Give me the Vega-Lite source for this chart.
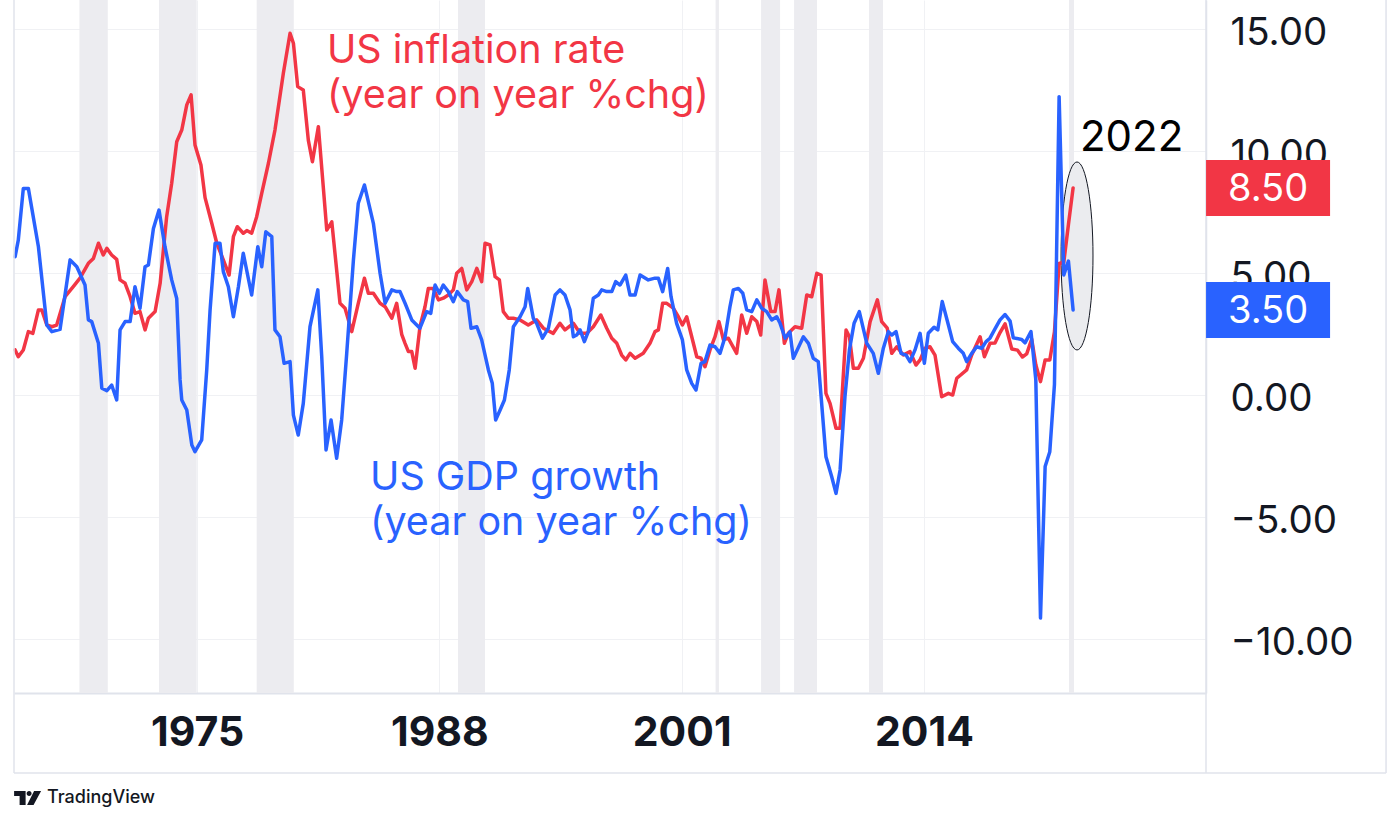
{
  "$schema": "https://vega.github.io/schema/vega-lite/v6.json",
  "autosize": {"type": "none"},
  "width": 1192,
  "height": 693,
  "padding": {"left": 14, "top": 0, "right": 194, "bottom": 130},
  "background": "#ffffff",
  "config": {
    "font": "Inter",
    "view": {"stroke": null}
  },
  "datasets": {
    "bands": [
      {"start": 1968.69, "end": 1970.21},
      {"start": 1972.96, "end": 1974.98},
      {"start": 1978.20, "end": 1980.19},
      {"start": 1989.00, "end": 1990.45},
      {"start": 2002.82, "end": 2003.00},
      {"start": 2005.26, "end": 2006.28},
      {"start": 2007.03, "end": 2008.26},
      {"start": 2011.05, "end": 2011.80},
      {"start": 2021.78, "end": 2022.05}
    ],
    "last": [
      {"series": "Inflation", "value": 8.5},
      {"series": "GDP", "value": 3.5}
    ],
    "series": [
      {"series":"Inflation","year":1965.24,"value":1.86},
      {"series":"Inflation","year":1965.41,"value":1.58},
      {"series":"Inflation","year":1965.68,"value":1.86},
      {"series":"Inflation","year":1965.95,"value":2.61},
      {"series":"Inflation","year":1966.19,"value":2.54},
      {"series":"Inflation","year":1966.49,"value":3.50},
      {"series":"Inflation","year":1966.67,"value":3.50},
      {"series":"Inflation","year":1966.94,"value":2.88},
      {"series":"Inflation","year":1967.21,"value":2.81},
      {"series":"Inflation","year":1967.47,"value":2.88},
      {"series":"Inflation","year":1967.92,"value":4.04},
      {"series":"Inflation","year":1968.36,"value":4.45},
      {"series":"Inflation","year":1968.72,"value":4.80},
      {"series":"Inflation","year":1969.17,"value":5.41},
      {"series":"Inflation","year":1969.44,"value":5.61},
      {"series":"Inflation","year":1969.71,"value":6.23},
      {"series":"Inflation","year":1969.97,"value":5.75},
      {"series":"Inflation","year":1970.16,"value":6.02},
      {"series":"Inflation","year":1970.42,"value":5.75},
      {"series":"Inflation","year":1970.69,"value":5.57},
      {"series":"Inflation","year":1970.87,"value":4.73},
      {"series":"Inflation","year":1971.14,"value":4.59},
      {"series":"Inflation","year":1971.41,"value":4.04},
      {"series":"Inflation","year":1971.67,"value":3.36},
      {"series":"Inflation","year":1971.94,"value":3.43},
      {"series":"Inflation","year":1972.21,"value":2.68},
      {"series":"Inflation","year":1972.39,"value":3.16},
      {"series":"Inflation","year":1972.75,"value":3.43},
      {"series":"Inflation","year":1973.02,"value":4.59},
      {"series":"Inflation","year":1973.37,"value":7.32},
      {"series":"Inflation","year":1973.64,"value":8.69},
      {"series":"Inflation","year":1973.91,"value":10.39},
      {"series":"Inflation","year":1974.18,"value":10.87},
      {"series":"Inflation","year":1974.45,"value":11.90},
      {"series":"Inflation","year":1974.68,"value":12.31},
      {"series":"Inflation","year":1974.89,"value":10.26},
      {"series":"Inflation","year":1975.21,"value":9.44},
      {"series":"Inflation","year":1975.43,"value":8.10},
      {"series":"Inflation","year":1975.79,"value":7.05},
      {"series":"Inflation","year":1976.06,"value":6.23},
      {"series":"Inflation","year":1976.41,"value":5.55},
      {"series":"Inflation","year":1976.72,"value":4.93},
      {"series":"Inflation","year":1976.95,"value":6.50},
      {"series":"Inflation","year":1977.16,"value":6.91},
      {"series":"Inflation","year":1977.48,"value":6.64},
      {"series":"Inflation","year":1977.67,"value":6.75},
      {"series":"Inflation","year":1977.93,"value":6.64},
      {"series":"Inflation","year":1978.20,"value":7.32},
      {"series":"Inflation","year":1978.47,"value":8.28},
      {"series":"Inflation","year":1978.83,"value":9.51},
      {"series":"Inflation","year":1979.18,"value":10.87},
      {"series":"Inflation","year":1979.63,"value":13.20},
      {"series":"Inflation","year":1979.99,"value":14.84},
      {"series":"Inflation","year":1980.17,"value":14.43},
      {"series":"Inflation","year":1980.40,"value":12.65},
      {"series":"Inflation","year":1980.70,"value":12.51},
      {"series":"Inflation","year":1980.97,"value":10.46},
      {"series":"Inflation","year":1981.19,"value":9.57},
      {"series":"Inflation","year":1981.51,"value":11.01},
      {"series":"Inflation","year":1981.96,"value":6.77},
      {"series":"Inflation","year":1982.23,"value":7.11},
      {"series":"Inflation","year":1982.67,"value":3.77},
      {"series":"Inflation","year":1982.94,"value":3.57},
      {"series":"Inflation","year":1983.30,"value":2.61},
      {"series":"Inflation","year":1983.65,"value":3.77},
      {"series":"Inflation","year":1983.98,"value":4.80},
      {"series":"Inflation","year":1984.19,"value":4.18},
      {"series":"Inflation","year":1984.46,"value":4.18},
      {"series":"Inflation","year":1984.82,"value":3.77},
      {"series":"Inflation","year":1985.09,"value":3.63},
      {"series":"Inflation","year":1985.45,"value":3.16},
      {"series":"Inflation","year":1985.71,"value":3.77},
      {"series":"Inflation","year":1985.98,"value":2.50},
      {"series":"Inflation","year":1986.16,"value":2.13},
      {"series":"Inflation","year":1986.34,"value":1.79},
      {"series":"Inflation","year":1986.52,"value":1.79},
      {"series":"Inflation","year":1986.70,"value":1.11},
      {"series":"Inflation","year":1986.96,"value":2.81},
      {"series":"Inflation","year":1987.23,"value":3.63},
      {"series":"Inflation","year":1987.41,"value":4.38},
      {"series":"Inflation","year":1987.68,"value":4.38},
      {"series":"Inflation","year":1987.95,"value":3.91},
      {"series":"Inflation","year":1988.21,"value":3.98},
      {"series":"Inflation","year":1988.48,"value":4.11},
      {"series":"Inflation","year":1988.75,"value":4.32},
      {"series":"Inflation","year":1988.93,"value":5.00},
      {"series":"Inflation","year":1989.20,"value":5.20},
      {"series":"Inflation","year":1989.47,"value":4.32},
      {"series":"Inflation","year":1989.74,"value":4.66},
      {"series":"Inflation","year":1990.01,"value":5.20},
      {"series":"Inflation","year":1990.27,"value":4.66},
      {"series":"Inflation","year":1990.45,"value":6.23},
      {"series":"Inflation","year":1990.72,"value":6.16},
      {"series":"Inflation","year":1990.99,"value":4.86},
      {"series":"Inflation","year":1991.22,"value":4.73},
      {"series":"Inflation","year":1991.43,"value":3.43},
      {"series":"Inflation","year":1991.70,"value":3.16},
      {"series":"Inflation","year":1991.97,"value":3.16},
      {"series":"Inflation","year":1992.33,"value":3.09},
      {"series":"Inflation","year":1992.77,"value":2.88},
      {"series":"Inflation","year":1993.22,"value":3.09},
      {"series":"Inflation","year":1993.58,"value":2.75},
      {"series":"Inflation","year":1994.11,"value":2.54},
      {"series":"Inflation","year":1994.47,"value":2.95},
      {"series":"Inflation","year":1994.74,"value":2.68},
      {"series":"Inflation","year":1995.19,"value":2.95},
      {"series":"Inflation","year":1995.55,"value":2.54},
      {"series":"Inflation","year":1995.91,"value":2.54},
      {"series":"Inflation","year":1996.26,"value":2.81},
      {"series":"Inflation","year":1996.66,"value":3.29},
      {"series":"Inflation","year":1996.98,"value":2.75},
      {"series":"Inflation","year":1997.25,"value":2.34},
      {"series":"Inflation","year":1997.52,"value":2.13},
      {"series":"Inflation","year":1997.78,"value":1.65},
      {"series":"Inflation","year":1998.00,"value":1.45},
      {"series":"Inflation","year":1998.23,"value":1.72},
      {"series":"Inflation","year":1998.50,"value":1.52},
      {"series":"Inflation","year":1998.94,"value":1.72},
      {"series":"Inflation","year":1999.30,"value":2.13},
      {"series":"Inflation","year":1999.57,"value":2.61},
      {"series":"Inflation","year":1999.75,"value":2.68},
      {"series":"Inflation","year":1999.98,"value":3.77},
      {"series":"Inflation","year":2000.20,"value":3.77},
      {"series":"Inflation","year":2000.55,"value":3.57},
      {"series":"Inflation","year":2000.82,"value":3.22},
      {"series":"Inflation","year":2001.04,"value":2.88},
      {"series":"Inflation","year":2001.27,"value":3.22},
      {"series":"Inflation","year":2001.54,"value":2.40},
      {"series":"Inflation","year":2001.81,"value":1.58},
      {"series":"Inflation","year":2002.04,"value":1.52},
      {"series":"Inflation","year":2002.25,"value":1.17},
      {"series":"Inflation","year":2002.52,"value":1.86},
      {"series":"Inflation","year":2002.79,"value":2.40},
      {"series":"Inflation","year":2003.00,"value":3.02},
      {"series":"Inflation","year":2003.24,"value":2.27},
      {"series":"Inflation","year":2003.50,"value":2.34},
      {"series":"Inflation","year":2003.95,"value":1.72},
      {"series":"Inflation","year":2004.22,"value":3.29},
      {"series":"Inflation","year":2004.49,"value":2.54},
      {"series":"Inflation","year":2004.76,"value":3.22},
      {"series":"Inflation","year":2005.03,"value":3.02},
      {"series":"Inflation","year":2005.24,"value":2.47},
      {"series":"Inflation","year":2005.47,"value":4.73},
      {"series":"Inflation","year":2005.78,"value":3.43},
      {"series":"Inflation","year":2006.01,"value":3.43},
      {"series":"Inflation","year":2006.22,"value":4.32},
      {"series":"Inflation","year":2006.51,"value":2.13},
      {"series":"Inflation","year":2006.72,"value":2.54},
      {"series":"Inflation","year":2007.08,"value":2.81},
      {"series":"Inflation","year":2007.44,"value":2.75},
      {"series":"Inflation","year":2007.71,"value":4.11},
      {"series":"Inflation","year":2007.98,"value":4.04},
      {"series":"Inflation","year":2008.25,"value":5.00},
      {"series":"Inflation","year":2008.48,"value":4.93},
      {"series":"Inflation","year":2008.74,"value":0.08},
      {"series":"Inflation","year":2008.96,"value":-0.33},
      {"series":"Inflation","year":2009.28,"value":-1.35},
      {"series":"Inflation","year":2009.50,"value":-1.35},
      {"series":"Inflation","year":2009.82,"value":2.68},
      {"series":"Inflation","year":2010.00,"value":2.40},
      {"series":"Inflation","year":2010.21,"value":1.11},
      {"series":"Inflation","year":2010.48,"value":1.11},
      {"series":"Inflation","year":2010.75,"value":1.52},
      {"series":"Inflation","year":2011.11,"value":3.02},
      {"series":"Inflation","year":2011.50,"value":3.91},
      {"series":"Inflation","year":2011.73,"value":3.02},
      {"series":"Inflation","year":2012.03,"value":2.75},
      {"series":"Inflation","year":2012.27,"value":1.72},
      {"series":"Inflation","year":2012.54,"value":1.99},
      {"series":"Inflation","year":2012.89,"value":1.65},
      {"series":"Inflation","year":2013.25,"value":1.79},
      {"series":"Inflation","year":2013.57,"value":1.24},
      {"series":"Inflation","year":2013.79,"value":1.45},
      {"series":"Inflation","year":2014.06,"value":1.93},
      {"series":"Inflation","year":2014.32,"value":1.99},
      {"series":"Inflation","year":2014.59,"value":1.65},
      {"series":"Inflation","year":2014.95,"value":-0.06},
      {"series":"Inflation","year":2015.31,"value":0.08},
      {"series":"Inflation","year":2015.54,"value":0.01},
      {"series":"Inflation","year":2015.76,"value":0.70},
      {"series":"Inflation","year":2016.29,"value":1.04},
      {"series":"Inflation","year":2016.56,"value":1.65},
      {"series":"Inflation","year":2017.01,"value":2.40},
      {"series":"Inflation","year":2017.24,"value":1.58},
      {"series":"Inflation","year":2017.54,"value":2.13},
      {"series":"Inflation","year":2017.81,"value":2.14},
      {"series":"Inflation","year":2018.08,"value":2.57},
      {"series":"Inflation","year":2018.35,"value":2.93},
      {"series":"Inflation","year":2018.71,"value":1.90},
      {"series":"Inflation","year":2019.02,"value":1.85},
      {"series":"Inflation","year":2019.28,"value":1.57},
      {"series":"Inflation","year":2019.51,"value":1.70},
      {"series":"Inflation","year":2019.78,"value":2.30},
      {"series":"Inflation","year":2020.00,"value":1.25},
      {"series":"Inflation","year":2020.25,"value":0.56},
      {"series":"Inflation","year":2020.50,"value":1.45},
      {"series":"Inflation","year":2020.75,"value":1.45},
      {"series":"Inflation","year":2021.00,"value":2.60},
      {"series":"Inflation","year":2021.25,"value":5.40},
      {"series":"Inflation","year":2021.50,"value":5.45},
      {"series":"Inflation","year":2021.75,"value":7.00},
      {"series":"Inflation","year":2022.00,"value":8.50},
      {"series":"GDP","year":1965.24,"value":5.68},
      {"series":"GDP","year":1965.41,"value":6.36},
      {"series":"GDP","year":1965.68,"value":8.48},
      {"series":"GDP","year":1965.95,"value":8.48},
      {"series":"GDP","year":1966.49,"value":6.09},
      {"series":"GDP","year":1966.94,"value":2.88},
      {"series":"GDP","year":1967.21,"value":2.61},
      {"series":"GDP","year":1967.65,"value":2.70},
      {"series":"GDP","year":1968.19,"value":5.55},
      {"series":"GDP","year":1968.55,"value":5.27},
      {"series":"GDP","year":1968.99,"value":4.52},
      {"series":"GDP","year":1969.17,"value":3.09},
      {"series":"GDP","year":1969.35,"value":3.02},
      {"series":"GDP","year":1969.71,"value":2.13},
      {"series":"GDP","year":1969.89,"value":0.29},
      {"series":"GDP","year":1970.16,"value":0.19},
      {"series":"GDP","year":1970.42,"value":0.42},
      {"series":"GDP","year":1970.69,"value":-0.19},
      {"series":"GDP","year":1970.87,"value":2.68},
      {"series":"GDP","year":1971.14,"value":3.02},
      {"series":"GDP","year":1971.41,"value":3.02},
      {"series":"GDP","year":1971.67,"value":4.45},
      {"series":"GDP","year":1971.94,"value":3.57},
      {"series":"GDP","year":1972.21,"value":5.27},
      {"series":"GDP","year":1972.39,"value":5.34},
      {"series":"GDP","year":1972.66,"value":6.84},
      {"series":"GDP","year":1972.96,"value":7.59},
      {"series":"GDP","year":1973.28,"value":6.09},
      {"series":"GDP","year":1973.64,"value":4.73},
      {"series":"GDP","year":1973.91,"value":3.97},
      {"series":"GDP","year":1974.09,"value":0.63},
      {"series":"GDP","year":1974.18,"value":-0.19},
      {"series":"GDP","year":1974.45,"value":-0.60},
      {"series":"GDP","year":1974.72,"value":-2.04},
      {"series":"GDP","year":1974.89,"value":-2.31},
      {"series":"GDP","year":1975.25,"value":-1.83},
      {"series":"GDP","year":1975.52,"value":1.04},
      {"series":"GDP","year":1975.70,"value":3.50},
      {"series":"GDP","year":1975.97,"value":6.23},
      {"series":"GDP","year":1976.23,"value":6.23},
      {"series":"GDP","year":1976.41,"value":5.07},
      {"series":"GDP","year":1976.68,"value":4.45},
      {"series":"GDP","year":1976.95,"value":3.22},
      {"series":"GDP","year":1977.22,"value":4.45},
      {"series":"GDP","year":1977.48,"value":5.82},
      {"series":"GDP","year":1977.93,"value":4.11},
      {"series":"GDP","year":1978.26,"value":6.09},
      {"series":"GDP","year":1978.47,"value":5.27},
      {"series":"GDP","year":1978.69,"value":6.70},
      {"series":"GDP","year":1979.01,"value":6.50},
      {"series":"GDP","year":1979.18,"value":2.68},
      {"series":"GDP","year":1979.45,"value":2.40},
      {"series":"GDP","year":1979.67,"value":1.31},
      {"series":"GDP","year":1979.99,"value":1.38},
      {"series":"GDP","year":1980.17,"value":-0.81},
      {"series":"GDP","year":1980.43,"value":-1.63},
      {"series":"GDP","year":1980.70,"value":-0.33},
      {"series":"GDP","year":1981.06,"value":2.81},
      {"series":"GDP","year":1981.48,"value":4.32},
      {"series":"GDP","year":1981.69,"value":1.58},
      {"series":"GDP","year":1981.92,"value":-2.24},
      {"series":"GDP","year":1982.19,"value":-1.01},
      {"series":"GDP","year":1982.49,"value":-2.58},
      {"series":"GDP","year":1982.76,"value":-1.01},
      {"series":"GDP","year":1983.03,"value":1.72},
      {"series":"GDP","year":1983.39,"value":5.55},
      {"series":"GDP","year":1983.65,"value":7.87},
      {"series":"GDP","year":1983.98,"value":8.62},
      {"series":"GDP","year":1984.46,"value":7.05},
      {"series":"GDP","year":1984.82,"value":5.00},
      {"series":"GDP","year":1985.09,"value":3.77},
      {"series":"GDP","year":1985.45,"value":4.32},
      {"series":"GDP","year":1985.71,"value":4.25},
      {"series":"GDP","year":1985.89,"value":4.25},
      {"series":"GDP","year":1986.16,"value":3.77},
      {"series":"GDP","year":1986.52,"value":3.09},
      {"series":"GDP","year":1986.96,"value":2.75},
      {"series":"GDP","year":1987.32,"value":3.43},
      {"series":"GDP","year":1987.54,"value":3.36},
      {"series":"GDP","year":1987.77,"value":4.52},
      {"series":"GDP","year":1988.00,"value":4.18},
      {"series":"GDP","year":1988.21,"value":4.52},
      {"series":"GDP","year":1988.48,"value":4.25},
      {"series":"GDP","year":1988.75,"value":3.84},
      {"series":"GDP","year":1988.96,"value":4.25},
      {"series":"GDP","year":1989.29,"value":3.91},
      {"series":"GDP","year":1989.52,"value":3.84},
      {"series":"GDP","year":1989.70,"value":2.75},
      {"series":"GDP","year":1990.01,"value":2.81},
      {"series":"GDP","year":1990.27,"value":2.27},
      {"series":"GDP","year":1990.63,"value":1.04},
      {"series":"GDP","year":1990.84,"value":0.49},
      {"series":"GDP","year":1991.02,"value":-1.01},
      {"series":"GDP","year":1991.26,"value":-0.60},
      {"series":"GDP","year":1991.49,"value":-0.19},
      {"series":"GDP","year":1991.75,"value":1.04},
      {"series":"GDP","year":1991.97,"value":2.81},
      {"series":"GDP","year":1992.33,"value":3.22},
      {"series":"GDP","year":1992.60,"value":3.63},
      {"series":"GDP","year":1992.74,"value":4.38},
      {"series":"GDP","year":1993.04,"value":3.16},
      {"series":"GDP","year":1993.22,"value":2.95},
      {"series":"GDP","year":1993.53,"value":2.34},
      {"series":"GDP","year":1993.85,"value":2.75},
      {"series":"GDP","year":1994.21,"value":4.11},
      {"series":"GDP","year":1994.47,"value":4.32},
      {"series":"GDP","year":1994.74,"value":4.11},
      {"series":"GDP","year":1995.01,"value":3.50},
      {"series":"GDP","year":1995.19,"value":2.40},
      {"series":"GDP","year":1995.37,"value":2.47},
      {"series":"GDP","year":1995.55,"value":2.68},
      {"series":"GDP","year":1995.78,"value":2.20},
      {"series":"GDP","year":1995.99,"value":2.61},
      {"series":"GDP","year":1996.26,"value":3.98},
      {"series":"GDP","year":1996.53,"value":4.11},
      {"series":"GDP","year":1996.71,"value":4.32},
      {"series":"GDP","year":1996.98,"value":4.25},
      {"series":"GDP","year":1997.25,"value":4.25},
      {"series":"GDP","year":1997.46,"value":4.66},
      {"series":"GDP","year":1997.69,"value":4.52},
      {"series":"GDP","year":1998.00,"value":4.93},
      {"series":"GDP","year":1998.23,"value":4.11},
      {"series":"GDP","year":1998.50,"value":4.11},
      {"series":"GDP","year":1998.77,"value":4.93},
      {"series":"GDP","year":1999.21,"value":4.73},
      {"series":"GDP","year":1999.57,"value":4.80},
      {"series":"GDP","year":1999.75,"value":4.80},
      {"series":"GDP","year":1999.98,"value":4.25},
      {"series":"GDP","year":2000.25,"value":5.20},
      {"series":"GDP","year":2000.43,"value":4.04},
      {"series":"GDP","year":2000.73,"value":2.95},
      {"series":"GDP","year":2001.04,"value":2.27},
      {"series":"GDP","year":2001.27,"value":1.04},
      {"series":"GDP","year":2001.54,"value":0.49},
      {"series":"GDP","year":2001.77,"value":0.22},
      {"series":"GDP","year":2002.04,"value":1.31},
      {"series":"GDP","year":2002.25,"value":1.38},
      {"series":"GDP","year":2002.52,"value":2.06},
      {"series":"GDP","year":2002.79,"value":1.99},
      {"series":"GDP","year":2003.06,"value":1.72},
      {"series":"GDP","year":2003.33,"value":2.40},
      {"series":"GDP","year":2003.59,"value":3.63},
      {"series":"GDP","year":2003.77,"value":4.32},
      {"series":"GDP","year":2004.04,"value":4.38},
      {"series":"GDP","year":2004.28,"value":4.18},
      {"series":"GDP","year":2004.49,"value":3.50},
      {"series":"GDP","year":2004.76,"value":3.43},
      {"series":"GDP","year":2005.03,"value":3.91},
      {"series":"GDP","year":2005.29,"value":3.57},
      {"series":"GDP","year":2005.56,"value":3.43},
      {"series":"GDP","year":2005.83,"value":3.09},
      {"series":"GDP","year":2006.10,"value":3.22},
      {"series":"GDP","year":2006.28,"value":2.95},
      {"series":"GDP","year":2006.55,"value":2.34},
      {"series":"GDP","year":2006.81,"value":2.60},
      {"series":"GDP","year":2006.99,"value":1.52},
      {"series":"GDP","year":2007.53,"value":2.40},
      {"series":"GDP","year":2007.80,"value":2.13},
      {"series":"GDP","year":2008.06,"value":1.52},
      {"series":"GDP","year":2008.33,"value":1.38},
      {"series":"GDP","year":2008.74,"value":-2.52},
      {"series":"GDP","year":2009.05,"value":-3.34},
      {"series":"GDP","year":2009.28,"value":-4.02},
      {"series":"GDP","year":2009.50,"value":-3.06},
      {"series":"GDP","year":2009.76,"value":-0.06},
      {"series":"GDP","year":2010.00,"value":1.86},
      {"series":"GDP","year":2010.25,"value":2.95},
      {"series":"GDP","year":2010.53,"value":3.43},
      {"series":"GDP","year":2010.93,"value":2.13},
      {"series":"GDP","year":2011.28,"value":1.72},
      {"series":"GDP","year":2011.55,"value":0.90},
      {"series":"GDP","year":2011.82,"value":1.93},
      {"series":"GDP","year":2012.09,"value":2.61},
      {"series":"GDP","year":2012.27,"value":2.47},
      {"series":"GDP","year":2012.50,"value":2.61},
      {"series":"GDP","year":2012.77,"value":1.72},
      {"series":"GDP","year":2013.04,"value":1.65},
      {"series":"GDP","year":2013.25,"value":1.38},
      {"series":"GDP","year":2013.52,"value":1.86},
      {"series":"GDP","year":2013.79,"value":2.54},
      {"series":"GDP","year":2014.02,"value":1.31},
      {"series":"GDP","year":2014.23,"value":2.54},
      {"series":"GDP","year":2014.54,"value":2.79},
      {"series":"GDP","year":2014.74,"value":2.68},
      {"series":"GDP","year":2014.98,"value":3.84},
      {"series":"GDP","year":2015.31,"value":2.88},
      {"series":"GDP","year":2015.54,"value":2.20},
      {"series":"GDP","year":2015.84,"value":1.93},
      {"series":"GDP","year":2016.11,"value":1.72},
      {"series":"GDP","year":2016.29,"value":1.38},
      {"series":"GDP","year":2016.56,"value":1.72},
      {"series":"GDP","year":2016.83,"value":1.99},
      {"series":"GDP","year":2017.10,"value":1.93},
      {"series":"GDP","year":2017.33,"value":2.20},
      {"series":"GDP","year":2017.54,"value":2.34},
      {"series":"GDP","year":2017.81,"value":2.72},
      {"series":"GDP","year":2018.08,"value":3.09},
      {"series":"GDP","year":2018.35,"value":3.31},
      {"series":"GDP","year":2018.62,"value":3.04},
      {"series":"GDP","year":2018.79,"value":2.36},
      {"series":"GDP","year":2019.24,"value":2.29},
      {"series":"GDP","year":2019.42,"value":2.15},
      {"series":"GDP","year":2019.74,"value":2.61},
      {"series":"GDP","year":2020.00,"value":0.63},
      {"series":"GDP","year":2020.25,"value":-9.13},
      {"series":"GDP","year":2020.50,"value":-2.92},
      {"series":"GDP","year":2020.75,"value":-2.31},
      {"series":"GDP","year":2021.00,"value":0.45},
      {"series":"GDP","year":2021.25,"value":12.24},
      {"series":"GDP","year":2021.50,"value":4.93},
      {"series":"GDP","year":2021.75,"value":5.50},
      {"series":"GDP","year":2022.00,"value":3.50}
    ]
  },
  "layer": [
    {
      "data": {"name": "bands"},
      "mark": {"type": "rect", "color": "#ececf0"},
      "encoding": {
        "x": {
          "field": "start", "type": "quantitative",
          "scale": {"domain": [1965.18, 2029.13], "nice": false, "zero": false},
          "axis": {
            "title": null,
            "values": [1975, 1988, 2001, 2014],
            "format": "d",
            "labelFont": "Inter",
            "labelFontSize": 41,
            "labelFontWeight": "bold",
            "labelColor": "#131722",
            "labelPadding": 20,
            "labelFlush": false,
            "labelOverlap": false,
            "ticks": false,
            "domain": true,
            "domainColor": "#e0e3eb",
            "domainWidth": 2,
            "grid": true,
            "gridColor": "#f0f1f4",
            "gridWidth": 1
          }
        },
        "x2": {"field": "end"}
      }
    },
    {
      "data": {"values": [{}]},
      "mark": {
        "type": "point",
        "shape": "M0.17,0 C0.17,0.5523 0.0939,1 0,1 C-0.0939,1 -0.17,0.5523 -0.17,0 C-0.17,-0.5523 -0.0939,-1 0,-1 C0.0939,-1 0.17,-0.5523 0.17,0 Z",
        "size": 35344,
        "filled": true,
        "fill": "#ebecef",
        "fillOpacity": 1,
        "opacity": 1,
        "stroke": "#131722",
        "strokeWidth": 1
      },
      "encoding": {
        "x": {"datum": 2022.21, "type": "quantitative", "title": null},
        "y": {"datum": 5.71, "type": "quantitative", "title": null}
      }
    },
    {
      "data": {"name": "series"},
      "mark": {"type": "line", "strokeWidth": 3.5, "strokeJoin": "round", "strokeCap": "round"},
      "encoding": {
        "x": {"field": "year", "type": "quantitative", "title": null},
        "y": {
          "field": "value", "type": "quantitative",
          "scale": {"domain": [-12.2, 16.2], "nice": false, "zero": false},
          "axis": {
            "title": null,
            "orient": "right",
            "values": [-10, -5, 0, 5, 10, 15],
            "format": ".2f",
            "labelFont": "Inter",
            "labelFontSize": 38.5,
            "labelColor": "#131722",
            "labelAlign": "left",
            "labelBaseline": "middle",
            "labelPadding": 24,
            "labelOffset": 3,
            "labelOverlap": false,
            "labelFlush": false,
            "ticks": false,
            "domain": true,
            "domainColor": "#e0e3eb",
            "domainWidth": 1.5,
            "grid": true,
            "gridColor": "#f0f1f4",
            "gridWidth": 1,
            "zindex": 0
          }
        },
        "color": {
          "field": "series", "type": "nominal",
          "scale": {"domain": ["Inflation", "GDP"], "range": ["#f23645", "#2962ff"]},
          "legend": null
        }
      }
    },
    {
      "data": {"values": [{}]},
      "mark": {"type": "rule", "color": "#e0e3eb", "strokeWidth": 1.5},
      "encoding": {
        "x": {"datum": 1965.18, "type": "quantitative", "title": null},
        "y": {"datum": 16.2, "type": "quantitative", "title": null},
        "y2": {"datum": -15.48}
      }
    },
    {
      "data": {"values": [{}]},
      "mark": {"type": "rule", "color": "#e0e3eb", "strokeWidth": 1.5},
      "encoding": {
        "x": {"datum": 2029.13, "type": "quantitative", "title": null},
        "y": {"datum": 16.2, "type": "quantitative", "title": null},
        "y2": {"datum": -15.48}
      }
    },
    {
      "data": {"values": [{}]},
      "mark": {"type": "rule", "color": "#e0e3eb", "strokeWidth": 1.5},
      "encoding": {
        "x": {"datum": 2038.79, "type": "quantitative", "title": null},
        "y": {"datum": 16.2, "type": "quantitative", "title": null},
        "y2": {"datum": -15.48}
      }
    },
    {
      "data": {"values": [{}]},
      "mark": {"type": "rule", "color": "#e0e3eb", "strokeWidth": 1.5},
      "encoding": {
        "x": {"datum": 1965.18, "type": "quantitative", "title": null},
        "x2": {"datum": 2038.79},
        "y": {"datum": -15.48, "type": "quantitative", "title": null}
      }
    },
    {
      "data": {"name": "last"},
      "mark": {
        "type": "point",
        "shape": "M-1,-0.4516 L1,-0.4516 L1,0.4516 L-1,0.4516 Z",
        "size": 15376,
        "filled": true,
        "opacity": 1
      },
      "encoding": {
        "x": {"datum": 2032.46, "type": "quantitative", "title": null},
        "y": {"field": "value", "type": "quantitative", "title": null},
        "color": {"field": "series", "type": "nominal", "legend": null}
      }
    },
    {
      "data": {"name": "last"},
      "mark": {"type": "text", "font": "Inter", "fontSize": 38, "fill": "#ffffff", "align": "center", "baseline": "middle", "dy": 2},
      "encoding": {
        "x": {"datum": 2032.46, "type": "quantitative", "title": null},
        "y": {"field": "value", "type": "quantitative", "title": null},
        "text": {"field": "value", "type": "quantitative", "format": ".2f"}
      }
    },
    {
      "data": {"values": [{}]},
      "mark": {"type": "text", "text": ["US inflation rate", "(year on year %chg)"], "font": "Inter", "fontSize": 39.5, "lineHeight": 45, "fill": "#f23645", "align": "left", "baseline": "alphabetic"},
      "encoding": {
        "x": {"datum": 1981.97, "type": "quantitative", "title": null},
        "y": {"datum": 13.62, "type": "quantitative", "title": null}
      }
    },
    {
      "data": {"values": [{}]},
      "mark": {"type": "text", "text": ["US GDP growth", "(year on year %chg)"], "font": "Inter", "fontSize": 39.5, "lineHeight": 45, "fill": "#2962ff", "align": "left", "baseline": "alphabetic"},
      "encoding": {
        "x": {"datum": 1984.28, "type": "quantitative", "title": null},
        "y": {"datum": -3.88, "type": "quantitative", "title": null}
      }
    },
    {
      "data": {"values": [{}]},
      "mark": {"type": "text", "text": "2022", "font": "Inter", "fontSize": 42, "fill": "#000000", "align": "left", "baseline": "alphabetic"},
      "encoding": {
        "x": {"datum": 2022.37, "type": "quantitative", "title": null},
        "y": {"datum": 10.02, "type": "quantitative", "title": null}
      }
    },
    {
      "data": {"values": [{}]},
      "mark": {
        "type": "point",
        "shape": "M-1,-0.52 L-0.148,-0.52 L-0.148,0.52 L-0.593,0.52 L-0.593,-0.148 L-1,-0.148 Z M0.296,-0.333 C0.296,-0.231 0.213,-0.148 0.111,-0.148 C0.009,-0.148 -0.074,-0.231 -0.074,-0.333 C-0.074,-0.435 0.009,-0.518 0.111,-0.518 C0.213,-0.518 0.296,-0.435 0.296,-0.333 Z M0.48,-0.52 L1,-0.52 L0.44,0.52 L-0.04,0.52 Z",
        "size": 729,
        "filled": true,
        "fill": "#131722",
        "opacity": 1
      },
      "encoding": {
        "x": {"datum": 1965.91, "type": "quantitative", "title": null},
        "y": {"datum": -16.5, "type": "quantitative", "title": null}
      }
    },
    {
      "data": {"values": [{}]},
      "mark": {"type": "text", "text": "TradingView", "font": "Inter", "fontSize": 18, "fontWeight": 500, "fill": "#131722", "align": "left", "baseline": "middle"},
      "encoding": {
        "x": {"datum": 1966.95, "type": "quantitative", "title": null},
        "y": {"datum": -16.5, "type": "quantitative", "title": null}
      }
    }
  ]
}
